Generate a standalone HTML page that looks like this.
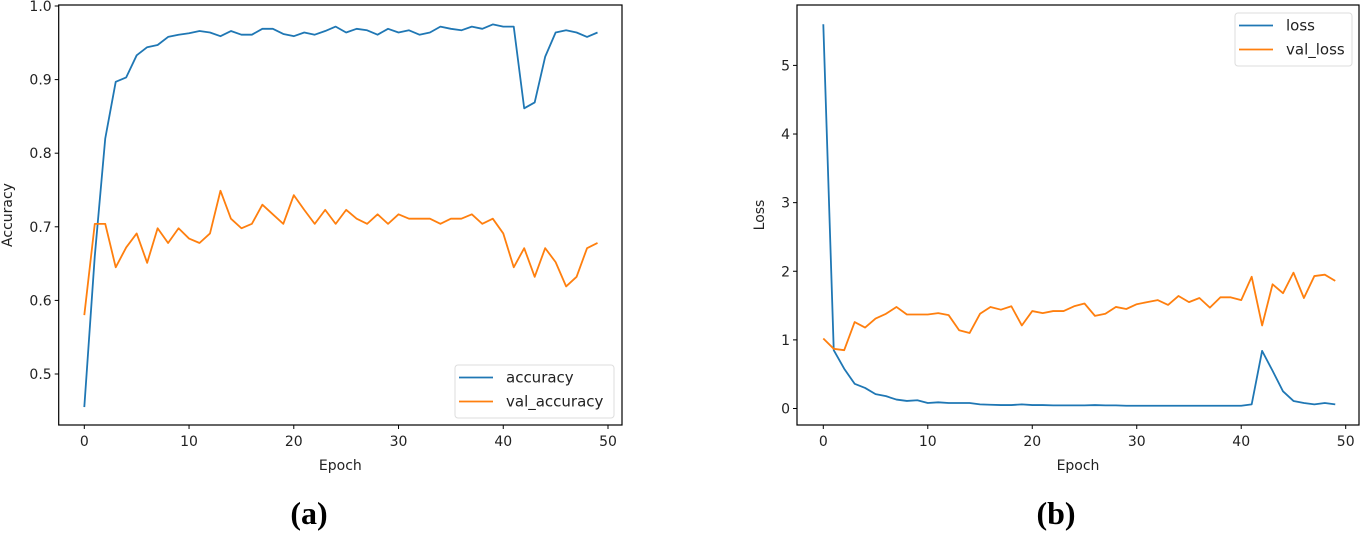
<!DOCTYPE html>
<html><head><meta charset="utf-8"><style>
html,body{margin:0;padding:0;background:#fff;}
svg text{font-family:"DejaVu Sans","Liberation Sans",sans-serif;}
</style></head><body>
<svg id="c" width="1363" height="532" viewBox="0 0 1363 532" xmlns="http://www.w3.org/2000/svg"></svg>
<script>
const epochs = Array.from({length:50},(_,i)=>i);
const accuracy = [0.455,0.66,0.82,0.897,0.903,0.933,0.944,0.947,0.958,0.961,0.963,0.966,0.964,0.959,0.966,0.961,0.961,0.969,0.969,0.962,0.959,0.964,0.961,0.966,0.972,0.964,0.969,0.967,0.961,0.969,0.964,0.967,0.961,0.964,0.972,0.969,0.967,0.972,0.969,0.975,0.972,0.972,0.861,0.869,0.931,0.964,0.967,0.964,0.958,0.964];
const valAccuracy = [0.58,0.704,0.704,0.645,0.672,0.691,0.651,0.698,0.678,0.698,0.684,0.678,0.691,0.749,0.711,0.698,0.704,0.730,0.717,0.704,0.743,0.723,0.704,0.723,0.704,0.723,0.711,0.704,0.717,0.704,0.717,0.711,0.711,0.711,0.704,0.711,0.711,0.717,0.704,0.711,0.691,0.645,0.671,0.632,0.671,0.652,0.619,0.632,0.671,0.678];
const loss = [5.6,0.85,0.58,0.36,0.3,0.21,0.18,0.13,0.11,0.12,0.08,0.09,0.08,0.08,0.08,0.06,0.055,0.05,0.05,0.06,0.05,0.05,0.045,0.045,0.045,0.045,0.05,0.045,0.045,0.04,0.04,0.04,0.04,0.04,0.04,0.04,0.04,0.04,0.04,0.04,0.04,0.06,0.84,0.55,0.25,0.11,0.08,0.06,0.08,0.06];
const valLoss = [1.02,0.87,0.85,1.26,1.18,1.31,1.38,1.48,1.37,1.37,1.37,1.39,1.36,1.14,1.10,1.38,1.48,1.44,1.49,1.21,1.42,1.39,1.42,1.42,1.49,1.53,1.35,1.38,1.48,1.45,1.52,1.55,1.58,1.51,1.64,1.55,1.61,1.47,1.62,1.62,1.58,1.92,1.21,1.81,1.68,1.98,1.61,1.93,1.95,1.86];
const xTicks = [0,10,20,30,40,50];
const accTicks = [0.5,0.6,0.7,0.8,0.9,1.0];
const lossTicks = [0,1,2,3,4,5];

const NS="http://www.w3.org/2000/svg";
const svg=document.getElementById('c');
function mk(tag,attrs,parent,text){const e=document.createElementNS(NS,tag);for(const k in attrs)e.setAttribute(k,attrs[k]);if(text!==undefined)e.textContent=text;(parent||svg).appendChild(e);return e;}

function chart(o){
  const g=mk('g',{});
  
  
  const sx=v=>o.x0+(v-0)*(o.x50-o.x0)/50;
  const sy=v=>o.yA+(v-o.vA)*(o.yB-o.yA)/(o.vB-o.vA);
  o.series.forEach(s=>{
    const p=mk('polyline',{points:epochs.map(i=>sx(i)+','+sy(s.data[i])).join(' '),fill:'none',stroke:s.color,'stroke-width':1.8,'stroke-linejoin':'round'},g);
    
    
  });
  const fr=mk('rect',{x:o.L,y:o.T,width:o.R-o.L,height:o.B-o.T,fill:'none',stroke:'#000','stroke-width':1.2},g);
  
  
  xTicks.forEach(t=>{
    const x=sx(t);
    mk('line',{x1:x,x2:x,y1:o.B,y2:o.B+4,stroke:'#000'},g);
    const tx=mk('text',{x:x,y:o.B+21,'text-anchor':'middle','font-size':14,fill:'#222'},g,String(t));
    
    
  });
  o.yTicks.forEach(t=>{
    const y=sy(t);
    mk('line',{x1:o.L-4,x2:o.L,y1:y,y2:y,stroke:'#000'},g);
    const tx=mk('text',{x:o.L-7,y:y+5,'text-anchor':'end','font-size':14,fill:'#222'},g,o.fmt(t));
    
    
  });
  const xl=mk('text',{x:(o.L+o.R)/2,y:470,'text-anchor':'middle','font-size':14,fill:'#222'},g,'Epoch');
  
  
  const yl=mk('text',{x:o.ylx,y:(o.T+o.B)/2,'text-anchor':'middle','font-size':14,fill:'#222',transform:'rotate(-90 '+o.ylx+' '+(o.T+o.B)/2+')'},g,o.ylabel);
  
  
  const lg=mk('g',{},g);
  
  
  mk('rect',{x:o.lx,y:o.ly,width:o.lw,height:53,rx:3,fill:'#fff',stroke:'#ddd'},lg);
  o.series.forEach((s,i)=>{
    const yy=o.ly+12.5+i*24;
    mk('line',{x1:o.lx+4,x2:o.lx+38,y1:yy,y2:yy,stroke:s.color,'stroke-width':1.8},lg);
    const t=mk('text',{x:o.lx+51,y:yy+5,'font-size':15,fill:'#222'},lg,s.key);
    
    
  });
  const cap=mk('text',{x:o.capx,y:524,'text-anchor':'middle','font-size':32,'font-weight':'bold',fill:'#000',style:'font-family:"Liberation Serif",serif'},g,o.cap);
  
  
}
chart({name:'accuracy-chart',L:58.7,R:622,T:5,B:425,x0:84.3,x50:608,yA:6,vA:1.0,yB:374,vB:0.5,yTicks:accTicks,fmt:t=>t.toFixed(1),ylabel:'Accuracy',ylx:12,
  series:[{key:'accuracy',data:accuracy,color:'#1f77b4'},{key:'val_accuracy',data:valAccuracy,color:'#ff7f0e'}],
  lx:455,ly:365,lw:159,cap:'(a)',capx:309});
chart({name:'loss-chart',L:797,R:1359,T:5,B:425,x0:823.3,x50:1345.7,yA:408.5,vA:0,yB:65.4,vB:5,yTicks:lossTicks,fmt:t=>String(t),ylabel:'Loss',ylx:764,
  series:[{key:'loss',data:loss,color:'#1f77b4'},{key:'val_loss',data:valLoss,color:'#ff7f0e'}],
  lx:1235,ly:13,lw:117,cap:'(b)',capx:1056});
</script>
</body></html>
